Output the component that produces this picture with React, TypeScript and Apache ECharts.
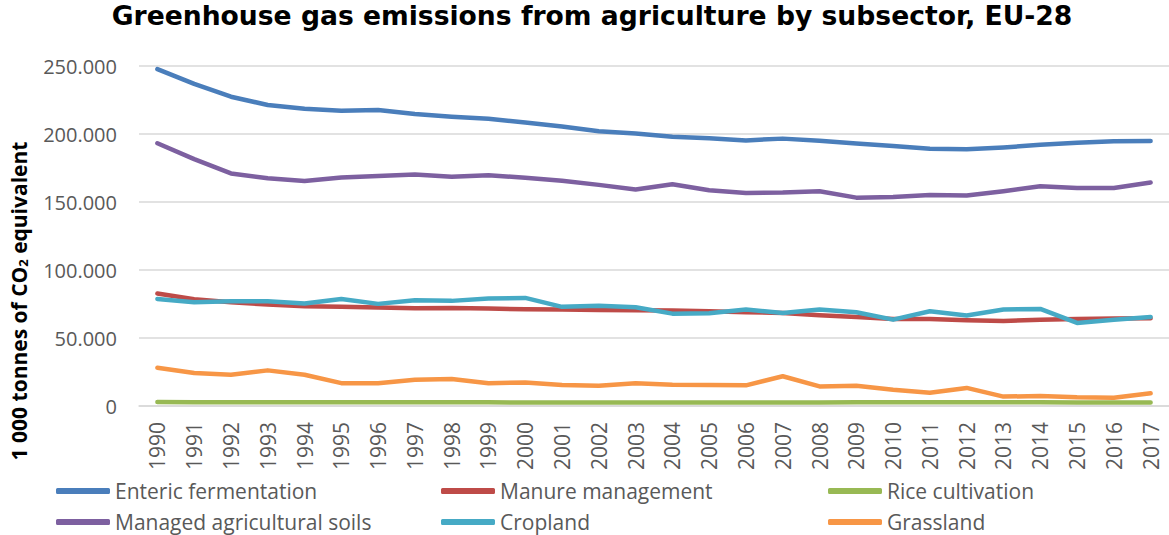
import React, { useEffect, useRef } from "react";
import * as echarts from "echarts";

// Emissions in 1 000 tonnes of CO2 equivalent, EU-28
const years = [
  "1990", "1991", "1992", "1993", "1994", "1995", "1996", "1997", "1998", "1999",
  "2000", "2001", "2002", "2003", "2004", "2005", "2006", "2007", "2008", "2009",
  "2010", "2011", "2012", "2013", "2014", "2015", "2016", "2017",
];

const entericFermentation = [
  247700, 236800, 227400, 221300, 218500, 217100, 217600, 214700, 212700, 211200,
  208500, 205500, 202000, 200300, 198000, 196800, 195300, 196600, 195100, 193100,
  191100, 189200, 188700, 190100, 192100, 193600, 194600, 194800,
];

const manureManagement = [
  82700, 78500, 76300, 74600, 73300, 72900, 72400, 71900, 72100, 71600,
  71100, 70900, 70600, 70400, 70300, 69600, 69000, 68400, 66700, 65500,
  64000, 64000, 63000, 62500, 63500, 64000, 64300, 64500,
];

const riceCultivation = [
  2900, 2700, 2700, 2700, 2700, 2700, 2800, 2800, 2700, 2700,
  2500, 2500, 2600, 2600, 2600, 2600, 2600, 2600, 2500, 2700,
  2800, 2800, 2800, 2700, 2700, 2600, 2600, 2600,
];

const managedAgriculturalSoils = [
  193200, 181500, 171000, 167500, 165500, 168000, 169200, 170200, 168600, 169700,
  167800, 165600, 162600, 159200, 163000, 158600, 156700, 156900, 157900, 153200,
  153700, 155200, 154700, 157900, 161600, 160300, 160300, 164300,
];

const cropland = [
  78700, 76300, 77000, 77000, 75300, 78700, 75100, 77800, 77300, 79000,
  79500, 72900, 73800, 72600, 67900, 68200, 70900, 68400, 70900, 68900,
  63500, 69700, 66500, 70900, 71400, 61100, 63500, 65500,
];

const grassland = [
  28100, 24200, 23000, 26200, 23000, 16800, 16800, 19300, 19800, 16800,
  17300, 15400, 14900, 16800, 15600, 15400, 15200, 21900, 14400, 14900,
  12000, 9800, 13300, 6900, 7400, 6400, 6100, 9300,
];

const seriesNames = [
  "Enteric fermentation",
  "Manure management",
  "Rice cultivation",
  "Managed agricultural soils",
  "Cropland",
  "Grassland",
];
const seriesValues = [
  entericFermentation,
  manureManagement,
  riceCultivation,
  managedAgriculturalSoils,
  cropland,
  grassland,
];
const seriesColors = ["#4a7ebb", "#be4b48", "#98b954", "#7d60a0", "#46aac5", "#f79646"];

const yTicks = { min: 0, max: 250000, interval: 50000 };

const TEXT_GREY = "#595959";
const GRID_GREY = "#d9d9d9";
const LABEL_FONT = "'Open Sans', 'DejaVu Sans', sans-serif";

// thousands separated with a dot, e.g. 250.000
const formatThousands = (v: number) =>
  v === 0 ? "0" : String(Math.round(v)).replace(/\B(?=(\d{3})+(?!\d))/g, ".");

// legend slots: three columns, two rows
const legendColumns = [56, 441, 828];
const legendRows = [480, 511];

export default function App() {
  const ref = useRef<HTMLDivElement>(null);

  useEffect(() => {
    if (!ref.current) return;
    const chart = echarts.init(ref.current, null, { renderer: "svg" });

    const legends = seriesNames.map((name, i) => ({
      show: true,
      data: [name],
      left: legendColumns[i % 3],
      top: legendRows[Math.floor(i / 3)],
      icon: "roundRect",
      itemWidth: 54,
      itemHeight: 6,
      selectedMode: false,
      padding: 0,
      textStyle: {
        color: TEXT_GREY,
        fontSize: 21,
        lineHeight: 22,
        fontFamily: LABEL_FONT,
      },
    }));

    chart.setOption({
      animation: false,
      backgroundColor: "#ffffff",
      grid: { left: 139, right: 0, top: 66, height: 340, containLabel: false },
      graphic: [
        {
          type: "text",
          x: 592,
          y: 15,
          style: {
            text: "Greenhouse gas emissions from agriculture by subsector, EU-28",
            fill: "#000000",
            font: "bold 26.6px 'DejaVu Sans', Verdana, sans-serif",
            align: "center",
            verticalAlign: "middle",
          },
        },
        {
          type: "text",
          x: 19,
          y: 301,
          rotation: Math.PI / 2,
          style: {
            text: "1 000 tonnes of CO{sub|2} equivalent",
            fill: "#000000",
            fontFamily: LABEL_FONT,
            fontWeight: "bold",
            fontSize: 21,
            align: "center",
            verticalAlign: "middle",
            rich: {
              sub: {
                fontFamily: LABEL_FONT,
                fontWeight: "bold",
                fontSize: 13,
                fill: "#000000",
                verticalAlign: "bottom",
                padding: [8, 0, 0, 0],
              },
            },
          },
        },
      ],
      legend: legends,
      xAxis: {
        type: "category",
        data: years,
        boundaryGap: true,
        axisLine: { show: true, lineStyle: { color: GRID_GREY, width: 1.5 } },
        axisTick: { show: false },
        axisLabel: {
          rotate: 90,
          margin: 16,
          color: TEXT_GREY,
          fontSize: 21,
          fontFamily: LABEL_FONT,
          interval: 0,
        },
      },
      yAxis: {
        type: "value",
        min: yTicks.min,
        max: yTicks.max,
        interval: yTicks.interval,
        axisLine: { show: false },
        axisTick: { show: false },
        splitLine: { show: true, lineStyle: { color: GRID_GREY, width: 1.5 } },
        axisLabel: {
          margin: 22,
          color: TEXT_GREY,
          fontSize: 20,
          fontFamily: LABEL_FONT,
          formatter: (v: number) => formatThousands(v),
        },
      },
      series: seriesNames.map((name, i) => ({
        name,
        type: "line",
        data: seriesValues[i],
        showSymbol: false,
        symbol: "none",
        color: seriesColors[i],
        lineStyle: { width: 4.5, color: seriesColors[i], cap: "round", join: "round" },
        z: 2 + i,
      })),
    });

    return () => chart.dispose();
  }, []);

  return (
    <div
      ref={ref}
      style={{ position: "absolute", left: 0, top: 0, width: 1169, height: 535 }}
    />
  );
}
